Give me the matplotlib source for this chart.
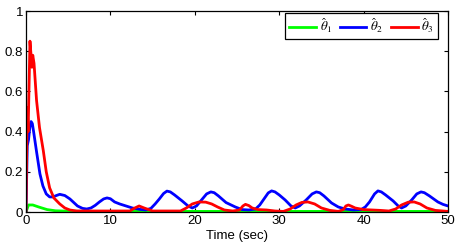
import matplotlib
matplotlib.use("Agg")
import matplotlib.pyplot as plt
from matplotlib.ticker import FormatStrFormatter

plt.rcParams['font.family'] = ['Liberation Sans', 'DejaVu Sans']
plt.rcParams['mathtext.fontset'] = 'stix'

# theta_1 estimate (green)
t1 = [0, 0.3, 0.8, 1.5, 2.5, 3.5, 5, 8, 50]
th1 = [0.0, 0.035, 0.035, 0.025, 0.012, 0.006, 0.004, 0.003, 0.003]

# theta_2 estimate (blue)
t2 = [0, 0.15, 0.3, 0.45, 0.6, 0.75, 0.9, 1.25, 1.65, 2.0, 2.4, 2.8, 3.2, 3.6,
      4.0, 4.6, 5.2, 6.1, 6.7, 7.2, 7.7, 8.2, 8.7, 9.2, 9.6, 10.0, 10.5, 11.1,
      12.6, 13.5, 14.2, 14.8, 15.3, 15.8, 16.3, 16.7, 17.1, 17.6, 18.5, 19.2,
      19.7, 20.2, 20.8, 21.4, 21.9, 22.3, 22.8, 23.7, 24.8, 25.6, 26.4, 27.2,
      27.7, 28.2, 28.7, 29.1, 29.5, 30.0, 30.7, 31.4, 31.9, 32.4, 33.2, 33.9,
      34.4, 34.8, 35.3, 36.2, 37.0, 37.8, 38.8, 39.7, 40.2, 40.7, 41.3, 41.7,
      42.1, 42.6, 43.5, 44.1, 44.5, 45.0, 45.7, 46.3, 46.8, 47.2, 47.8, 48.8,
      49.4, 50]
th2 = [0.0, 0.33, 0.36, 0.42, 0.45, 0.44, 0.40, 0.30, 0.19, 0.13, 0.09, 0.075,
       0.075, 0.082, 0.088, 0.082, 0.065, 0.03, 0.018, 0.015, 0.02, 0.033,
       0.05, 0.065, 0.07, 0.066, 0.05, 0.04, 0.02, 0.013, 0.01, 0.018, 0.04,
       0.065, 0.092, 0.104, 0.1, 0.085, 0.055, 0.03, 0.02, 0.03, 0.06, 0.09,
       0.10, 0.096, 0.08, 0.047, 0.025, 0.012, 0.01, 0.015, 0.035, 0.065,
       0.095, 0.105, 0.1, 0.085, 0.06, 0.03, 0.02, 0.03, 0.06, 0.09, 0.10,
       0.096, 0.08, 0.045, 0.025, 0.015, 0.01, 0.012, 0.025, 0.05, 0.09, 0.105,
       0.1, 0.085, 0.055, 0.03, 0.02, 0.03, 0.06, 0.09, 0.10, 0.096, 0.08,
       0.05, 0.038, 0.03]

# theta_3 estimate (red)
t3 = [0, 0.08, 0.15, 0.25, 0.47, 0.6, 0.7, 0.8, 0.95, 1.25, 1.6, 2.05, 2.4,
      2.8, 3.3, 4.0, 4.6, 5.2, 6.0, 12.3, 12.9, 13.4, 14.0, 15.0, 18.3, 19.0,
      19.7, 20.5, 21.3, 22.0, 22.7, 23.5, 24.5, 25.3, 25.7, 26.0, 26.4, 26.8,
      27.5, 28.5, 29.5, 30.5, 31.3, 32.0, 32.7, 33.4, 34.2, 35.0, 36.0, 37.0,
      37.6, 37.9, 38.2, 38.6, 39.0, 40.0, 41.0, 42.0, 43.0, 43.8, 44.5, 45.3,
      46.0, 46.7, 47.5, 48.5, 50]
th3 = [0.0, 0.3, 0.52, 0.40, 0.85, 0.78, 0.72, 0.78, 0.74, 0.555, 0.42, 0.305,
       0.20, 0.12, 0.07, 0.04, 0.02, 0.01, 0.005, 0.005, 0.02, 0.03, 0.02,
       0.005, 0.005, 0.02, 0.04, 0.05, 0.049, 0.04, 0.025, 0.01, 0.005, 0.01,
       0.03, 0.038, 0.032, 0.02, 0.012, 0.01, 0.005, 0.003, 0.015, 0.035,
       0.048, 0.05, 0.04, 0.02, 0.008, 0.003, 0.012, 0.03, 0.035, 0.028, 0.02,
       0.012, 0.01, 0.008, 0.005, 0.015, 0.035, 0.049, 0.05, 0.04, 0.02,
       0.008, 0.003]

fig = plt.figure(figsize=(4.62, 2.47), dpi=100)
ax = fig.add_axes([26 / 462, 35 / 247, 422 / 462, 201 / 247])

ax.plot(t1, th1, color=(0, 1, 0), lw=2, label=r'$\hat{\theta}_1$')
ax.plot(t2, th2, color=(0, 0, 1), lw=2, label=r'$\hat{\theta}_2$')
ax.plot(t3, th3, color=(1, 0, 0), lw=2, label=r'$\hat{\theta}_3$')

ax.set_xlim(0, 50)
ax.set_ylim(0, 1)
ax.set_xticks([0, 10, 20, 30, 40, 50])
ax.set_yticks([0, 0.2, 0.4, 0.6, 0.8, 1])
ax.yaxis.set_major_formatter(FormatStrFormatter('%g'))
ax.tick_params(direction='in', top=True, right=True, length=3, width=0.8,
               labelsize=9.5, pad=2)
for s in ax.spines.values():
    s.set_linewidth(0.9)
ax.set_xlabel('Time (sec)', fontsize=9.5, labelpad=2)

leg = ax.legend(loc='upper right', bbox_to_anchor=(1 - 10 / 422, 1 - 2 / 201),
                borderaxespad=0, ncol=3, fontsize=9.5, handlelength=2.0,
                handletextpad=0.3, columnspacing=0.6, borderpad=0.3,
                fancybox=False, framealpha=1, edgecolor='black')
leg.get_frame().set_linewidth(0.9)

fig.savefig('out.png', dpi=100)
